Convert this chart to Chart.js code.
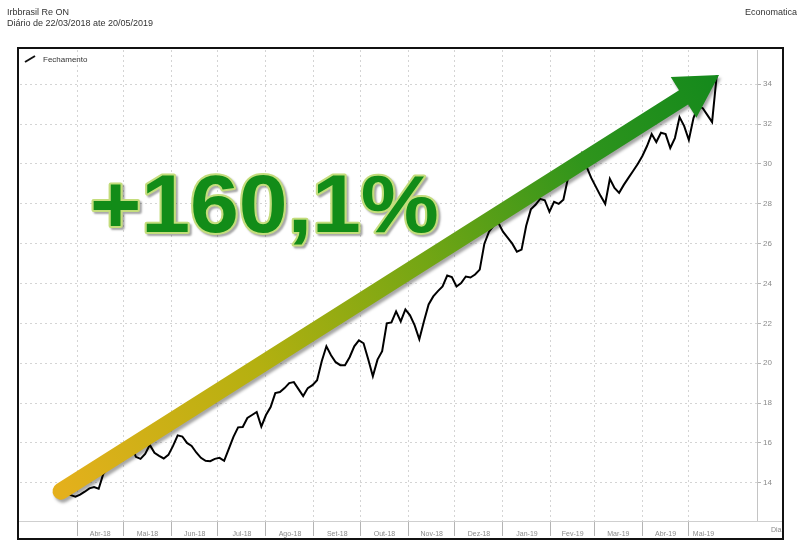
<!DOCTYPE html>
<html>
<head>
<meta charset="utf-8">
<script src="https://cdn.jsdelivr.net/npm/chart.js@4"></script>
<style>
  html, body { margin: 0; padding: 0; background: #fff; }
  canvas { display: block; }
</style>
</head>
<body>
<canvas id="chart" width="800" height="553"></canvas>
<script>
// ====== Data ======
// closes sampled every 3 calendar days, day 0 = 22/03/2018
const dayStep = 3;
const closes = [
  13.35, 13.42, 13.38, 13.30, 13.40, 13.55, 13.72, 13.78, 13.70, 14.45,
  14.72, 14.85, 15.05, 15.20, 15.50, 15.95, 15.30, 15.20, 15.45, 15.90,
  15.50, 15.35, 15.22, 15.40, 15.85, 16.38, 16.32, 16.00, 15.85, 15.52,
  15.25, 15.10, 15.08, 15.20, 15.25, 15.10, 15.70, 16.30, 16.78, 16.80,
  17.25, 17.40, 17.55, 16.82, 17.40, 17.80, 18.50, 18.55, 18.75, 19.00,
  19.05, 18.70, 18.35, 18.75, 18.90, 19.15, 20.10, 20.85, 20.40, 20.05,
  19.90, 19.90, 20.30, 20.85, 21.15, 21.00, 20.20, 19.35, 20.18, 20.60,
  22.00, 22.05, 22.60, 22.10, 22.70, 22.40, 21.90, 21.20, 22.10, 22.95,
  23.35, 23.62, 23.85, 24.40, 24.32, 23.85, 24.02, 24.35, 24.30, 24.45,
  24.70, 26.00, 26.60, 26.90, 27.05, 26.60, 26.30, 26.00, 25.60, 25.70,
  26.90, 27.72, 27.95, 28.25, 28.18, 27.60, 28.10, 28.00, 28.20, 29.30,
  29.50, 29.65, 30.50, 29.85, 29.30, 28.85, 28.40, 28.00, 29.25, 28.80,
  28.55, 28.95, 29.30, 29.65, 30.00, 30.40, 30.90, 31.50, 31.10, 31.57,
  31.50, 30.80, 31.30, 32.35, 31.90, 31.20, 32.30, 32.90, 32.80, 32.45,
  32.10, 34.45
];
const monthStarts = [10, 40, 71, 101, 132, 163, 193, 224, 254, 285, 316, 344, 375, 405];
const monthLabels = ['Abr-18', 'Mai-18', 'Jun-18', 'Jul-18', 'Ago-18', 'Set-18', 'Out-18',
  'Nov-18', 'Dez-18', 'Jan-19', 'Fev-19', 'Mar-19', 'Abr-19', 'Mai-19'];
const lastDay = 424;
const yTicks = [14, 16, 18, 20, 22, 24, 26, 28, 30, 32, 34];

const titleText = 'Irbbrasil Re ON';
const subtitleText = 'Diário de 22/03/2018 ate 20/05/2019';
const sourceText = 'Economatica';
const seriesLabel = 'Fechamento';
const gainLabel = '+160,1%';
// arrow in data units (day, price)
const arrowFrom = { x: -0.3, y: 13.58 };
const arrowTo = { x: 424.5, y: 34.47 };

// month label positions = middle of each month span
const monthMids = monthStarts.map((d, i) => (d + (i < monthStarts.length - 1 ? monthStarts[i + 1] : lastDay)) / 2);

// ====== Overlay plugin ======
const FONT = '"Liberation Sans", Arial, sans-serif';
const overlay = {
  id: 'overlay',
  beforeDraw(chart) {
    const c = chart.ctx;
    c.save();
    c.fillStyle = '#fff';
    c.fillRect(0, 0, chart.width, chart.height);
    c.restore();
  },
  afterDatasetsDraw(chart) {
    const c = chart.ctx, xs = chart.scales.x, ys = chart.scales.y;
    // arrow
    const x0 = xs.getPixelForValue(arrowFrom.x), y0 = ys.getPixelForValue(arrowFrom.y);
    const x1 = xs.getPixelForValue(arrowTo.x), y1 = ys.getPixelForValue(arrowTo.y);
    const len = Math.hypot(x1 - x0, y1 - y0);
    const ux = (x1 - x0) / len, uy = (y1 - y0) / len;
    const nx = -uy, ny = ux;
    const w = 8.5, W = 24, L = 42;
    const bx = x1 - ux * L, by = y1 - uy * L;
    const grad = c.createLinearGradient(x0, y0, x1, y1);
    grad.addColorStop(0, '#e4b01c');
    grad.addColorStop(0.3, '#b4b010');
    grad.addColorStop(0.55, '#74a614');
    grad.addColorStop(0.8, '#2e941c');
    grad.addColorStop(1, '#14891c');
    c.save();
    c.shadowColor = 'rgba(0,0,0,0.35)';
    c.shadowOffsetX = 2; c.shadowOffsetY = 3; c.shadowBlur = 3;
    c.beginPath();
    c.moveTo(x0 + nx * w, y0 + ny * w);
    c.lineTo(bx + nx * w, by + ny * w);
    c.lineTo(bx + nx * W, by + ny * W);
    c.lineTo(x1, y1);
    c.lineTo(bx - nx * W, by - ny * W);
    c.lineTo(bx - nx * w, by - ny * w);
    c.lineTo(x0 - nx * w, y0 - ny * w);
    const a = Math.atan2(ny, nx);
    c.arc(x0, y0, w, a + Math.PI, a, true);
    c.closePath();
    c.fillStyle = grad;
    c.fill();
    c.restore();

    // big percentage label
    c.save();
    c.translate(90, 232);
    c.scale(1.07, 1);
    c.font = 'bold 82px ' + FONT;
    c.textBaseline = 'alphabetic';
    c.lineJoin = 'round';
    c.shadowColor = 'rgba(0,0,0,0.35)';
    c.shadowOffsetX = 2; c.shadowOffsetY = 2; c.shadowBlur = 2;
    c.strokeStyle = '#c4dd7c';
    c.lineWidth = 4;
    c.strokeText(gainLabel, 0, 0);
    c.shadowColor = 'transparent';
    c.fillStyle = '#128c18';
    c.fillText(gainLabel, 0, 0);
    c.restore();
  },
  afterDraw(chart) {
    const c = chart.ctx, area = chart.chartArea;
    c.save();
    // titles
    c.fillStyle = '#333';
    c.font = '9px ' + FONT;
    c.textBaseline = 'middle';
    c.textAlign = 'left';
    c.fillText(titleText, 7, 13);
    c.fillText(subtitleText, 7, 24);
    c.textAlign = 'right';
    c.fillText(sourceText, 797, 13);
    // legend
    c.strokeStyle = '#111';
    c.lineWidth = 2;
    c.beginPath();
    c.moveTo(25, 62); c.lineTo(35, 56);
    c.stroke();
    c.textAlign = 'left';
    c.font = '8px ' + FONT;
    c.fillStyle = '#333';
    c.fillText(seriesLabel, 43, 60);
    // baseline extended to frame
    c.strokeStyle = '#cfcfcf';
    c.lineWidth = 1;
    c.beginPath();
    c.moveTo(18, area.bottom + 0.5); c.lineTo(783, area.bottom + 0.5);
    c.stroke();
    // axis word
    c.font = '7px ' + FONT;
    c.fillStyle = '#888';
    c.fillText('Dia', 771, 530);
    // frame
    c.strokeStyle = '#111';
    c.lineWidth = 2;
    c.strokeRect(18, 48, 765, 491);
    c.restore();
  }
};

// ====== Chart ======
const ctx = document.getElementById('chart').getContext('2d');
const chart = new Chart(ctx, {
  type: 'line',
  data: {
    datasets: [{
      label: seriesLabel,
      data: closes.map((v, i) => ({ x: i * dayStep, y: v })),
      borderColor: '#000',
      borderWidth: 2,
      pointRadius: 0,
      tension: 0
    }]
  },
  options: {
    responsive: false,
    animation: false,
    devicePixelRatio: 1,
    layout: { padding: { left: 20, top: 50, right: 17, bottom: 14 } },
    plugins: { legend: { display: false }, tooltip: { enabled: false } },
    scales: {
      x: {
        type: 'linear',
        position: 'bottom',
        min: -26.8,
        max: 449,
        afterBuildTicks: (s) => {
          s.ticks = monthStarts.map(v => ({ value: v, sep: true }))
            .concat(monthMids.map((v, i) => ({ value: v, name: monthLabels[i] })));
        },
        afterFit: (s) => { s.height = 18; },
        ticks: {
          autoSkip: false,
          maxRotation: 0,
          padding: -6,
          color: '#8a8a8a',
          font: { size: 7, family: FONT },
          callback: (v, i, t) => t[i].sep ? '' : t[i].name
        },
        grid: {
          color: (c) => (c.tick && c.tick.sep) ? '#d4d4d4' : 'rgba(0,0,0,0)',
          tickColor: (c) => (c.tick && c.tick.sep) ? '#b4b4b4' : 'rgba(0,0,0,0)',
          tickBorderDash: [],
          tickLength: 15,
          lineWidth: 1
        },
        border: { color: '#cfcfcf', width: 1, dash: [2, 3] }
      },
      y: {
        type: 'linear',
        position: 'right',
        min: 12.08,
        max: 35.72,
        afterBuildTicks: (s) => { s.ticks = yTicks.map(v => ({ value: v })); },
        afterFit: (s) => { s.width = 26; },
        ticks: {
          padding: 2,
          color: '#8a8a8a',
          font: { size: 8, family: FONT }
        },
        grid: {
          color: '#d4d4d4',
          tickColor: '#b4b4b4',
          tickBorderDash: [],
          tickLength: 4
        },
        border: { color: '#c4c4c4', width: 1, dash: [2, 3] }
      }
    }
  },
  plugins: [overlay]
});
</script>
</body>
</html>
